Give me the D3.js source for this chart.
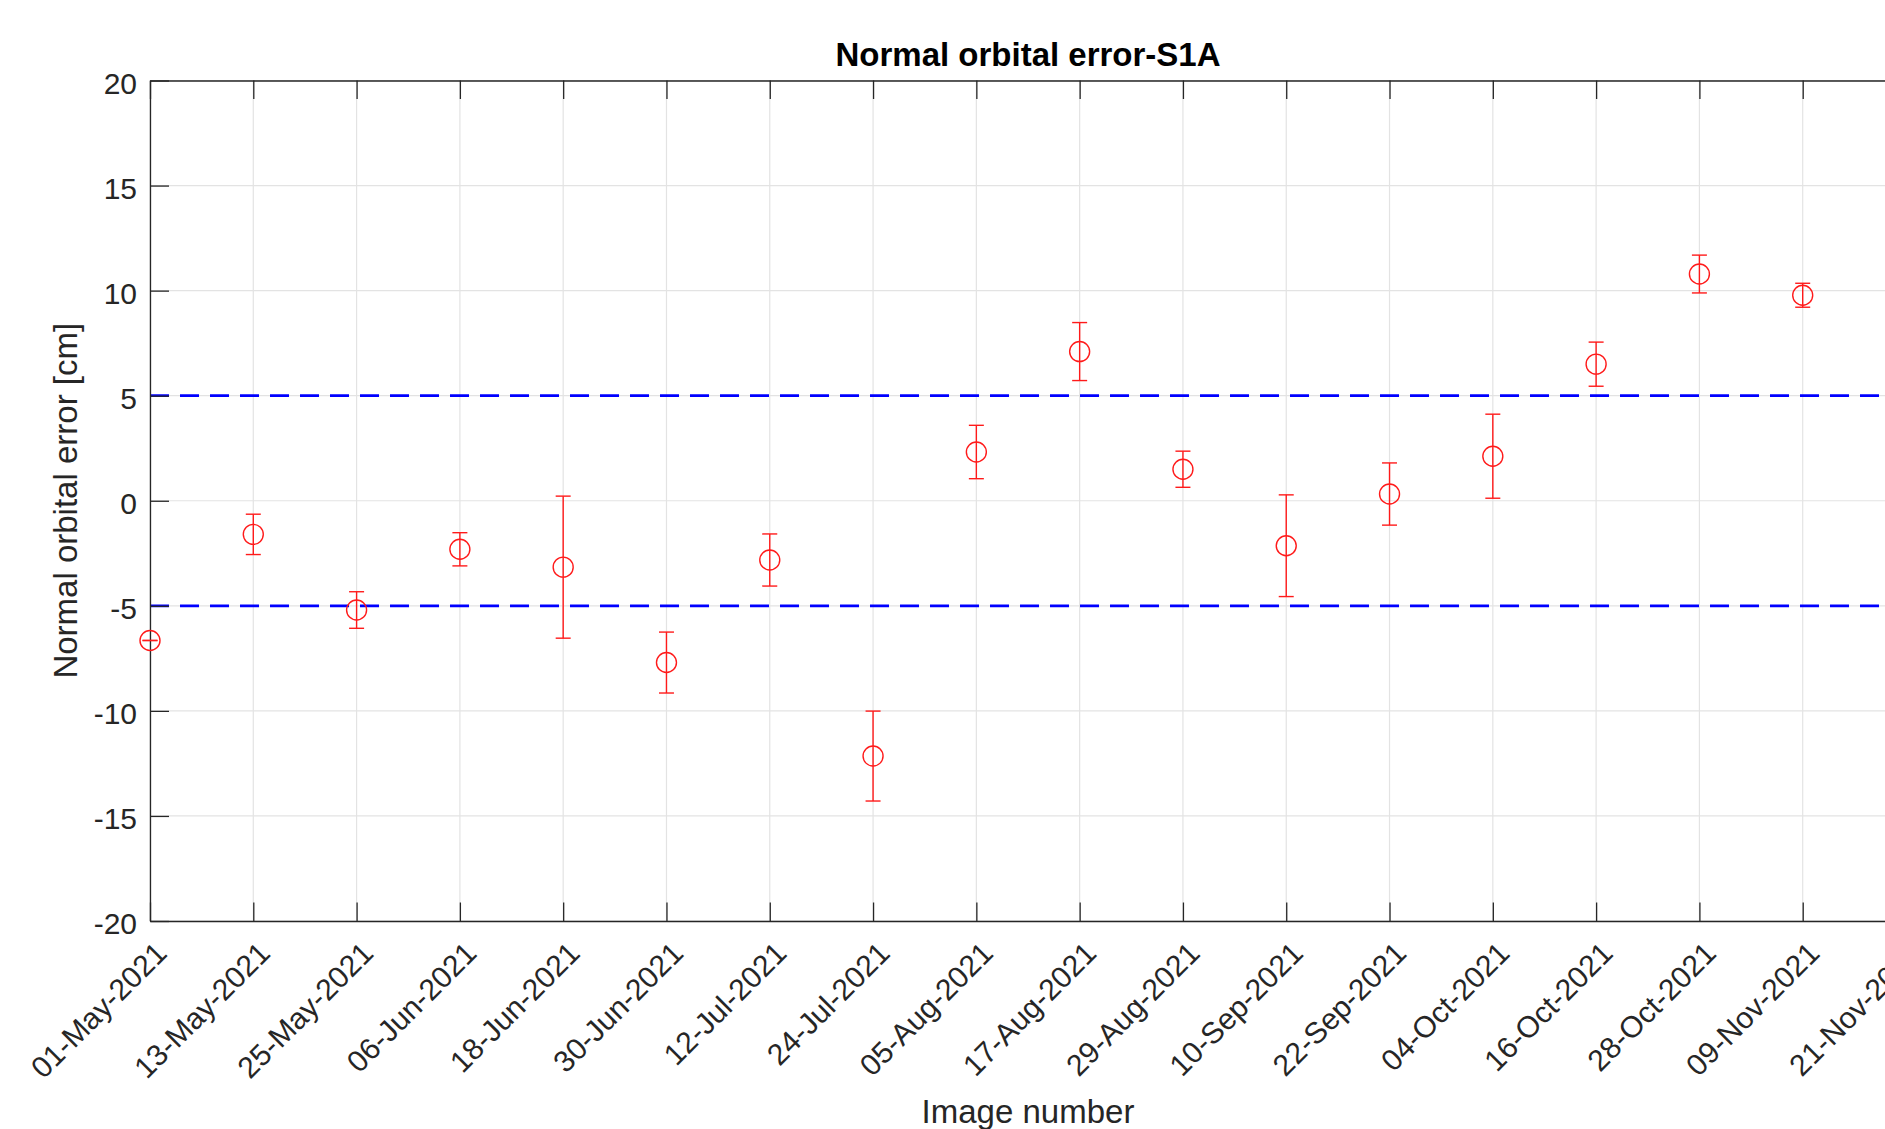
<!DOCTYPE html>
<html>
<head>
<meta charset="utf-8">
<script src="https://cdn.jsdelivr.net/npm/d3@7"></script>
<style>
body { margin: 0; background: #fff; overflow: hidden; }
svg { display: block; font-family: Arial, "Liberation Sans", Helvetica, sans-serif; }
</style>
</head>
<body>
<div id="container"></div>
<script>
"use strict";

const width = 1885;
const height = 1129;

// plot box (the right end of the axes falls outside the picture)
const plotLeft = 150, plotTop = 80.5, plotBottom = 921, plotRight = 1906;

// tick labels along the x axis (12 day repeat)
const tickLabels = ["01-May-2021", "13-May-2021", "25-May-2021", "06-Jun-2021", "18-Jun-2021",
    "30-Jun-2021", "12-Jul-2021", "24-Jul-2021", "05-Aug-2021", "17-Aug-2021", "29-Aug-2021",
    "10-Sep-2021", "22-Sep-2021", "04-Oct-2021", "16-Oct-2021", "28-Oct-2021", "09-Nov-2021",
    "21-Nov-2021"];

// acquisition dates of the images
const obsDates = ["01-May-2021", "13-May-2021", "25-May-2021", "06-Jun-2021", "18-Jun-2021",
    "30-Jun-2021", "12-Jul-2021", "24-Jul-2021", "05-Aug-2021", "17-Aug-2021", "29-Aug-2021",
    "10-Sep-2021", "22-Sep-2021", "04-Oct-2021", "16-Oct-2021", "28-Oct-2021", "09-Nov-2021"];

// normal orbital error [cm] and its error bar half length
const errValues = [-6.65, -1.60, -5.20, -2.31, -3.16, -7.70, -2.82, -12.15, 2.32, 7.10,
    1.50, -2.14, 0.32, 2.12, 6.50, 10.79, 9.78];
const errBars = [0.0, 0.96, 0.87, 0.79, 3.38, 1.45, 1.24, 2.14, 1.27, 1.38,
    0.86, 2.42, 1.48, 2.00, 1.05, 0.90, 0.57];

const yTicks = [-20, -15, -10, -5, 0, 5, 10, 15, 20];
const thresholds = [5, -5];

const parseDate = d3.utcParse("%d-%b-%Y");
const fmtDate = d3.utcFormat("%d-%b-%Y");

const axisColor = "#262626";
const gridColor = "#e3e3e3";

const svg = d3.select("#container").append("svg")
    .attr("width", width)
    .attr("height", height);

const x = d3.scaleUtc()
    .domain([parseDate(tickLabels[0]), parseDate(tickLabels[tickLabels.length - 1])])
    .range([plotLeft, plotRight]);

const y = d3.scaleLinear()
    .domain([-20, 20])
    .range([plotBottom, plotTop]);

const tickDates = tickLabels.map(parseDate);

// grid
const grid = svg.append("g");
grid.selectAll("line.vg")
    .data(tickDates)
    .enter().append("line")
    .attr("x1", d => x(d)).attr("x2", d => x(d))
    .attr("y1", plotTop).attr("y2", plotBottom)
    .attr("stroke", gridColor).attr("stroke-width", 1.2);
grid.selectAll("line.hg")
    .data(yTicks)
    .enter().append("line")
    .attr("x1", plotLeft).attr("x2", plotRight)
    .attr("y1", d => y(d)).attr("y2", d => y(d))
    .attr("stroke", gridColor).attr("stroke-width", 1.2);

// threshold lines
svg.append("g").selectAll("line")
    .data(thresholds)
    .enter().append("line")
    .attr("x1", plotLeft).attr("x2", plotRight)
    .attr("y1", d => y(d)).attr("y2", d => y(d))
    .attr("stroke", "#0000ff")
    .attr("stroke-width", 2.7)
    .attr("stroke-dasharray", "19,11");

// axes
const xAxis = svg.append("g")
    .attr("transform", "translate(0," + plotBottom + ")")
    .call(d3.axisBottom(x).tickValues(tickDates).tickFormat(fmtDate)
        .tickSizeInner(-18.5).tickSizeOuter(0));

xAxis.selectAll("text")
    .attr("x", 0).attr("y", 0).attr("dy", null)
    .attr("text-anchor", "end")
    .attr("transform", "translate(18,34) rotate(-45)")
    .style("font-size", "30px")
    .attr("fill", axisColor);

svg.append("g")
    .attr("transform", "translate(0," + plotTop + ")")
    .call(d3.axisTop(x).tickValues(tickDates).tickFormat("")
        .tickSizeInner(-18.5).tickSizeOuter(0));

const yAxis = svg.append("g")
    .attr("transform", "translate(" + plotLeft + ",0)")
    .call(d3.axisLeft(y).tickValues(yTicks).tickFormat(d => String(d))
        .tickSizeInner(-19).tickSizeOuter(0).tickPadding(13));

yAxis.selectAll("text")
    .attr("dy", "0.43em")
    .style("font-size", "30px")
    .attr("fill", axisColor);

svg.selectAll(".domain").attr("stroke", axisColor).attr("stroke-width", 1.3);
svg.selectAll(".tick line").attr("stroke", axisColor).attr("stroke-width", 1.3);

// error bars and markers
const pts = obsDates.map((d, i) => ({date: parseDate(d), v: errValues[i], e: errBars[i]}));
const red = "#ff1a1a";
const capW = 7.5;

const marks = svg.append("g")
    .attr("fill", "none")
    .attr("stroke", red)
    .attr("stroke-width", 1.4);

const pg = marks.selectAll("g")
    .data(pts)
    .enter().append("g");

pg.append("line")
    .attr("x1", d => x(d.date)).attr("x2", d => x(d.date))
    .attr("y1", d => y(d.v + d.e)).attr("y2", d => y(d.v - d.e));
pg.append("line")
    .attr("x1", d => x(d.date) - capW).attr("x2", d => x(d.date) + capW)
    .attr("y1", d => y(d.v + d.e)).attr("y2", d => y(d.v + d.e));
pg.append("line")
    .attr("x1", d => x(d.date) - capW).attr("x2", d => x(d.date) + capW)
    .attr("y1", d => y(d.v - d.e)).attr("y2", d => y(d.v - d.e));
pg.append("circle")
    .attr("cx", d => x(d.date))
    .attr("cy", d => y(d.v))
    .attr("r", 10);

// title and axis labels
svg.append("text")
    .attr("x", (plotLeft + plotRight) / 2)
    .attr("y", 66)
    .attr("text-anchor", "middle")
    .style("font-size", "33px")
    .style("font-weight", "bold")
    .attr("fill", "#000")
    .text("Normal orbital error-S1A");

svg.append("text")
    .attr("x", (plotLeft + plotRight) / 2)
    .attr("y", 1123)
    .attr("text-anchor", "middle")
    .style("font-size", "33px")
    .attr("fill", axisColor)
    .text("Image number");

svg.append("text")
    .attr("transform", "translate(77," + ((plotTop + plotBottom) / 2) + ") rotate(-90)")
    .attr("text-anchor", "middle")
    .style("font-size", "33px")
    .attr("fill", axisColor)
    .text("Normal orbital error [cm]");
</script>
</body>
</html>
